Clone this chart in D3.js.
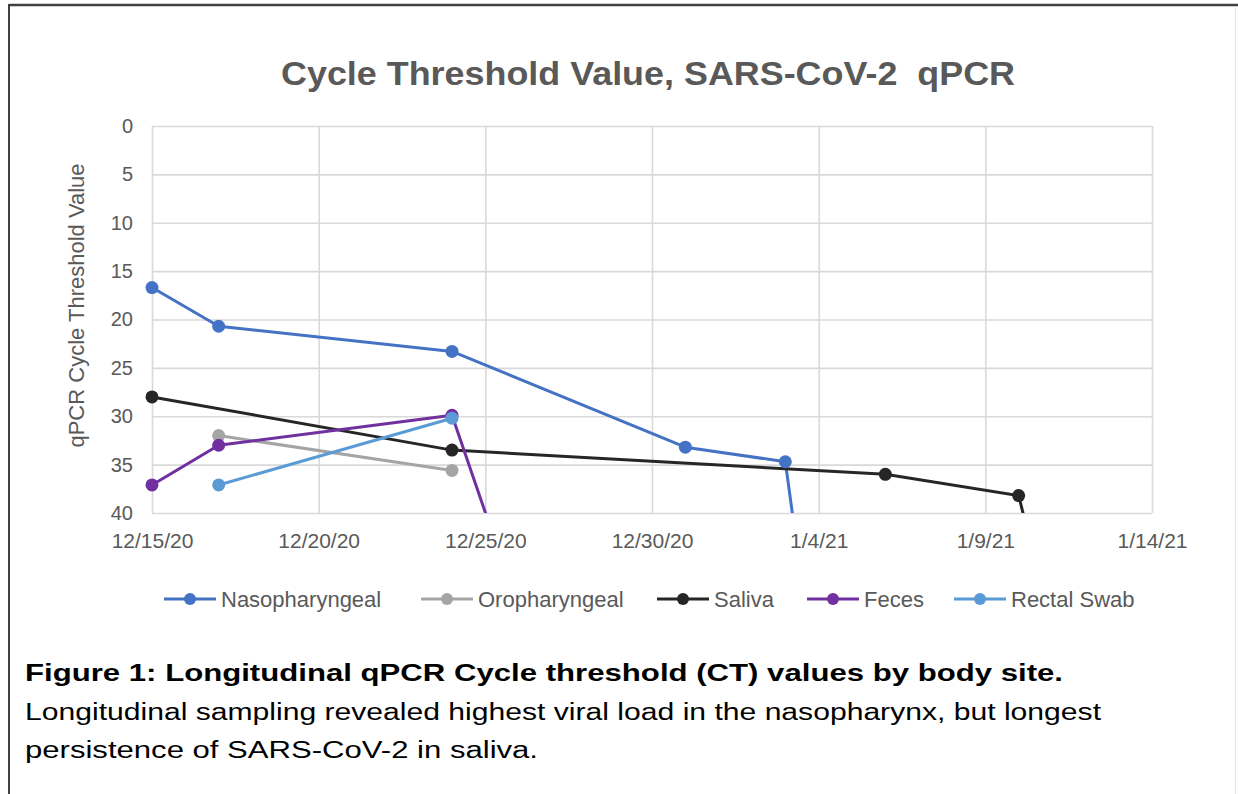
<!DOCTYPE html>
<html>
<head>
<meta charset="utf-8">
<script src="https://cdn.jsdelivr.net/npm/d3@7/dist/d3.min.js"></script>
<style>
  html, body { margin: 0; padding: 0; background: #fff; }
  svg { display: block; }
  text { font-family: "Liberation Sans", Arial, sans-serif; }
</style>
</head>
<body>
<svg id="chart" width="1238" height="794"></svg>
<script>
// ---- data ----
const chartTitle = "Cycle Threshold Value, SARS-CoV-2  qPCR";
const yAxisTitle = "qPCR Cycle Threshold Value";
const xTickDates = ["2020-12-15", "2020-12-20", "2020-12-25", "2020-12-30", "2021-01-04", "2021-01-09", "2021-01-14"];
const xTickLabels = ["12/15/20", "12/20/20", "12/25/20", "12/30/20", "1/4/21", "1/9/21", "1/14/21"];
const yTickValues = [0, 5, 10, 15, 20, 25, 30, 35, 40];

const seriesNames = ["Nasopharyngeal", "Oropharyngeal", "Saliva", "Feces", "Rectal Swab"];
const seriesColors = ["#4472C4", "#A5A5A5", "#262626", "#7030A0", "#5B9BD5"];

const nasopharyngealDates = ["2020-12-15", "2020-12-17", "2020-12-24", "2020-12-31", "2021-01-03", "2021-01-04"];
const nasopharyngealValues = [16.7, 20.7, 23.3, 33.2, 34.7, 60];
const oropharyngealDates = ["2020-12-17", "2020-12-24"];
const oropharyngealValues = [32.0, 35.6];
const salivaDates = ["2020-12-15", "2020-12-24", "2021-01-06", "2021-01-10", "2021-01-11"];
const salivaValues = [28.0, 33.5, 36.0, 38.2, 52];
const fecesDates = ["2020-12-15", "2020-12-17", "2020-12-24", "2020-12-26"];
const fecesValues = [37.1, 33.0, 29.9, 50];
const rectalSwabDates = ["2020-12-17", "2020-12-24"];
const rectalSwabValues = [37.1, 30.2];

const captionBold = "Figure 1: Longitudinal qPCR Cycle threshold (CT) values by body site.";
const captionLines = [
  "Longitudinal sampling revealed highest viral load in the nasopharynx, but longest",
  "persistence of SARS-CoV-2 in saliva."
];

// ---- build ----
const parse = d3.utcParse("%Y-%m-%d");
const seriesDates = [nasopharyngealDates, oropharyngealDates, salivaDates, fecesDates, rectalSwabDates];
const seriesValues = [nasopharyngealValues, oropharyngealValues, salivaValues, fecesValues, rectalSwabValues];
const series = seriesNames.map((name, i) => ({
  name, color: seriesColors[i],
  points: seriesDates[i].map((d, j) => ({ date: parse(d), value: seriesValues[i][j] }))
}));

const svg = d3.select("#chart");
const plot = { left: 152, right: 1152, top: 126, bottom: 513 };

const x = d3.scaleUtc()
  .domain([parse(xTickDates[0]), parse(xTickDates[xTickDates.length - 1])])
  .range([plot.left, plot.right]);
const y = d3.scaleLinear().domain([0, 40]).range([plot.top, plot.bottom]);

// outer figure frame
svg.append("line").attr("x1", 9).attr("x2", 1238).attr("y1", 5).attr("y2", 5)
  .attr("stroke", "#404040").attr("stroke-width", 2.5);
svg.append("line").attr("x1", 9).attr("x2", 9).attr("y1", 4).attr("y2", 794)
  .attr("stroke", "#404040").attr("stroke-width", 2);
svg.append("line").attr("x1", 1235.5).attr("x2", 1235.5).attr("y1", 6).attr("y2", 794)
  .attr("stroke", "#e4e4e4").attr("stroke-width", 1);

// title
svg.append("text")
  .attr("x", 648).attr("y", 85)
  .attr("text-anchor", "middle")
  .attr("font-size", 34).attr("font-weight", "bold")
  .attr("fill", "#595959")
  .attr("textLength", 734).attr("lengthAdjust", "spacingAndGlyphs")
  .style("white-space", "pre")
  .text(chartTitle);

// gridlines via axes
const gridY = d3.axisLeft(y).tickValues(yTickValues).tickSize(-(plot.right - plot.left)).tickFormat("");
svg.append("g").attr("transform", `translate(${plot.left},0)`).call(gridY)
  .call(g => g.select(".domain").remove())
  .call(g => g.selectAll("line").attr("stroke", "#d9d9d9").attr("stroke-width", 1.6));
const gridX = d3.axisBottom(x).tickValues(xTickDates.map(parse)).tickSize(-(plot.bottom - plot.top)).tickFormat("");
svg.append("g").attr("transform", `translate(0,${plot.bottom})`).call(gridX)
  .call(g => g.select(".domain").remove())
  .call(g => g.selectAll("line").attr("stroke", "#d9d9d9").attr("stroke-width", 1.6));

// y tick labels
const yAxis = d3.axisLeft(y).tickValues(yTickValues).tickSize(0).tickPadding(19);
svg.append("g").attr("transform", `translate(${plot.left},0)`).call(yAxis)
  .call(g => g.select(".domain").remove())
  .call(g => g.selectAll("text").attr("font-size", 20).attr("fill", "#595959")
    .attr("font-family", "Liberation Sans, Arial, sans-serif"));

// x tick labels
const xAxis = d3.axisBottom(x).tickValues(xTickDates.map(parse))
  .tickFormat((d, i) => xTickLabels[i]).tickSize(0).tickPadding(20);
svg.append("g").attr("transform", `translate(0,${plot.bottom})`).call(xAxis)
  .call(g => g.select(".domain").remove())
  .call(g => g.selectAll("text").attr("font-size", 21).attr("fill", "#595959")
    .attr("font-family", "Liberation Sans, Arial, sans-serif"));

// y axis title
svg.append("text")
  .attr("transform", `translate(76,${(plot.top + plot.bottom) / 2 - 14}) rotate(-90)`)
  .attr("text-anchor", "middle").attr("dominant-baseline", "central")
  .attr("font-size", 22).attr("fill", "#595959")
  .text(yAxisTitle);

// clip
svg.append("clipPath").attr("id", "plotclip").append("rect")
  .attr("x", plot.left - 10).attr("y", plot.top - 10)
  .attr("width", plot.right - plot.left + 20).attr("height", plot.bottom - plot.top + 10);

const line = d3.line().x(d => x(d.date)).y(d => y(d.value));
const gSeries = svg.append("g").attr("clip-path", "url(#plotclip)");
series.forEach(s => {
  gSeries.append("path").datum(s.points)
    .attr("d", line).attr("fill", "none")
    .attr("stroke", s.color).attr("stroke-width", 3).attr("stroke-linejoin", "round");
});
series.forEach(s => {
  gSeries.selectAll(null).data(s.points.filter(p => p.value <= 40)).enter()
    .append("circle")
    .attr("cx", d => x(d.date)).attr("cy", d => y(d.value)).attr("r", 6.5)
    .attr("fill", s.color);
});

// legend
const legendX = [164, 421, 657, 807, 954];
const legend = svg.append("g");
series.forEach((s, i) => {
  const g = legend.append("g").attr("transform", `translate(${legendX[i]},599)`);
  g.append("line").attr("x1", 0).attr("x2", 52).attr("y1", 0).attr("y2", 0)
    .attr("stroke", s.color).attr("stroke-width", 3);
  g.append("circle").attr("cx", 26).attr("cy", 0).attr("r", 6).attr("fill", s.color);
  g.append("text").attr("x", 57).attr("y", 0).attr("dominant-baseline", "central")
    .attr("font-size", 22).attr("fill", "#595959").text(s.name);
});

// caption
svg.append("text").attr("x", 25).attr("y", 681)
  .attr("font-size", 23).attr("font-weight", "bold").attr("fill", "#000")
  .attr("textLength", 1038).attr("lengthAdjust", "spacingAndGlyphs")
  .text(captionBold);
const capLens = [1076, 513];
captionLines.forEach((t, i) => {
  svg.append("text").attr("x", 25).attr("y", 720 + i * 38)
    .attr("font-size", 23).attr("fill", "#000")
    .attr("textLength", capLens[i]).attr("lengthAdjust", "spacingAndGlyphs")
    .text(t);
});
</script>
</body>
</html>
